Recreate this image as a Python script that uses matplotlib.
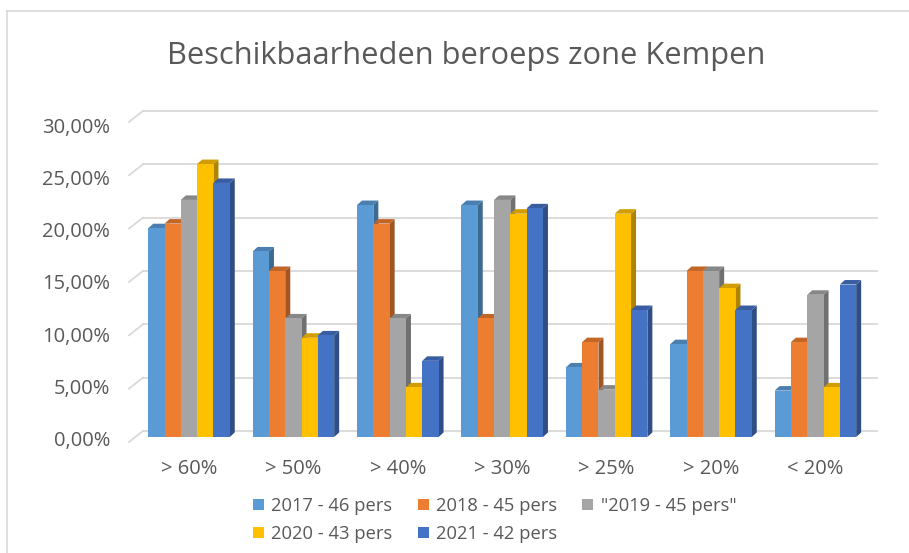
import numpy as np
import matplotlib.pyplot as plt
from matplotlib.patches import Polygon, Rectangle
from matplotlib.lines import Line2D
import matplotlib.colors as mcolors

plt.rcParams['font.family'] = ['Open Sans', 'DejaVu Sans']

categories = ['> 60%', '> 50%', '> 40%', '> 30%', '> 25%', '> 20%', '< 20%']
series = ['2017 - 46 pers', '2018 - 45 pers', '"2019 - 45 pers"', '2020 - 43 pers', '2021 - 42 pers']
colors = ['#5B9BD5', '#ED7D31', '#A5A5A5', '#FFC000', '#4472C4']

v2017 = [19.57, 17.39, 21.74, 21.74, 6.52, 8.70, 4.35]
v2018 = [20.00, 15.56, 20.00, 11.11, 8.89, 15.56, 8.89]
v2019 = [22.22, 11.11, 11.11, 22.22, 4.44, 15.56, 13.33]
v2020 = [25.58, 9.30, 4.65, 20.93, 20.93, 13.95, 4.65]
v2021 = [23.81, 9.52, 7.14, 21.43, 11.90, 11.90, 14.29]
values = [v2017, v2018, v2019, v2020, v2021]

yticks = [0, 5, 10, 15, 20, 25, 30]
ytick_labels = ['0,00%', '5,00%', '10,00%', '15,00%', '20,00%', '25,00%', '30,00%']

W, H = 909, 553
fig = plt.figure(figsize=(W / 100, H / 100), dpi=100)

# pixel geometry (from top-left)
px_cat = 104.4      # px per category
px_pct = 10.67      # px per percent
x0_px, y0_px = 189, 437   # centre of category 0, bar base
ax_l, ax_r, ax_t, ax_b = 115, 895, 95, 455
ax = fig.add_axes([ax_l / W, 1 - ax_b / H, (ax_r - ax_l) / W, (ax_b - ax_t) / H])
ax.set_xlim((ax_l - x0_px) / px_cat, (ax_r - x0_px) / px_cat)
ax.set_ylim((y0_px - ax_b) / px_pct, (y0_px - ax_t) / px_pct)
ax.axis('off')

def dx(p):
    return p / px_cat

def dy(p):
    return p / px_pct

grid_c = '#d9d9d9'
# back wall gridlines + side wall slants
for v in yticks:
    yb = v + dy(6)
    ax.add_line(Line2D([dx(143 - x0_px), dx(877 - x0_px)], [yb, yb], color=grid_c, lw=1.3, zorder=1))
    ax.add_line(Line2D([dx(129 - x0_px), dx(143 - x0_px)], [v - dy(5), yb], color=grid_c, lw=1.3, zorder=1))

# bars with pseudo 3D faces
bw = dx(16.3)
ddx, ddy = dx(5), dy(4.5)
for k in range(len(categories)):
    left0 = k - 2.5 * bw
    for s, vals in enumerate(values):
        v = vals[k]
        c = np.array(mcolors.to_rgb(colors[s]))
        side = c * 0.68
        top = c * 0.82
        xl = left0 + s * bw
        xr = xl + bw
        z = 2 + s * 0.1
        ax.add_patch(Polygon([(xr, 0), (xr + ddx, ddy), (xr + ddx, v + ddy), (xr, v)],
                             closed=True, facecolor=side, edgecolor='none', zorder=z))
        ax.add_patch(Polygon([(xl, v), (xl + ddx, v + ddy), (xr + ddx, v + ddy), (xr, v)],
                             closed=True, facecolor=top, edgecolor='none', zorder=z))
        ax.add_patch(Rectangle((xl, 0), bw, v, facecolor=c, edgecolor='none', zorder=z + 0.01))

txt_c = '#595959'
for v, lab in zip(yticks, ytick_labels):
    ax.text(dx(110 - x0_px), v - 0.4 - v * 0.02, lab, ha='right', va='center',
            fontsize=14.5, color=txt_c)
for k, lab in enumerate(categories):
    ax.text(k, dy(y0_px - 469), lab, ha='center', va='center', fontsize=14.5, color=txt_c)

fig.text(466 / W, 1 - 56 / H, 'Beschikbaarheden beroeps zone Kempen', ha='center', va='center',
         fontsize=22.2, color=txt_c)

# legend
handles = [Rectangle((0, 0), 1, 1, facecolor=c, edgecolor='none') for c in colors]
order = [0, 3, 1, 4, 2]
leg = fig.legend([handles[i] for i in order], [series[i] for i in order], ncol=3,
                 loc='upper left', bbox_to_anchor=(253 / W, 1 - 497 / H), frameon=False,
                 fontsize=13.2, labelcolor=txt_c, handlelength=0.6, handleheight=0.6,
                 handletextpad=0.4, columnspacing=1.37, labelspacing=0.55, borderpad=0,
                 borderaxespad=0)

# outer frame (left and top edges visible)
fig.add_artist(Line2D([7 / W, 7 / W], [0, 1 - 11 / H], color=grid_c, lw=1.2))
fig.add_artist(Line2D([7 / W, 1], [1 - 11 / H, 1 - 11 / H], color=grid_c, lw=1.2))

fig.savefig('out.png', dpi=100)
